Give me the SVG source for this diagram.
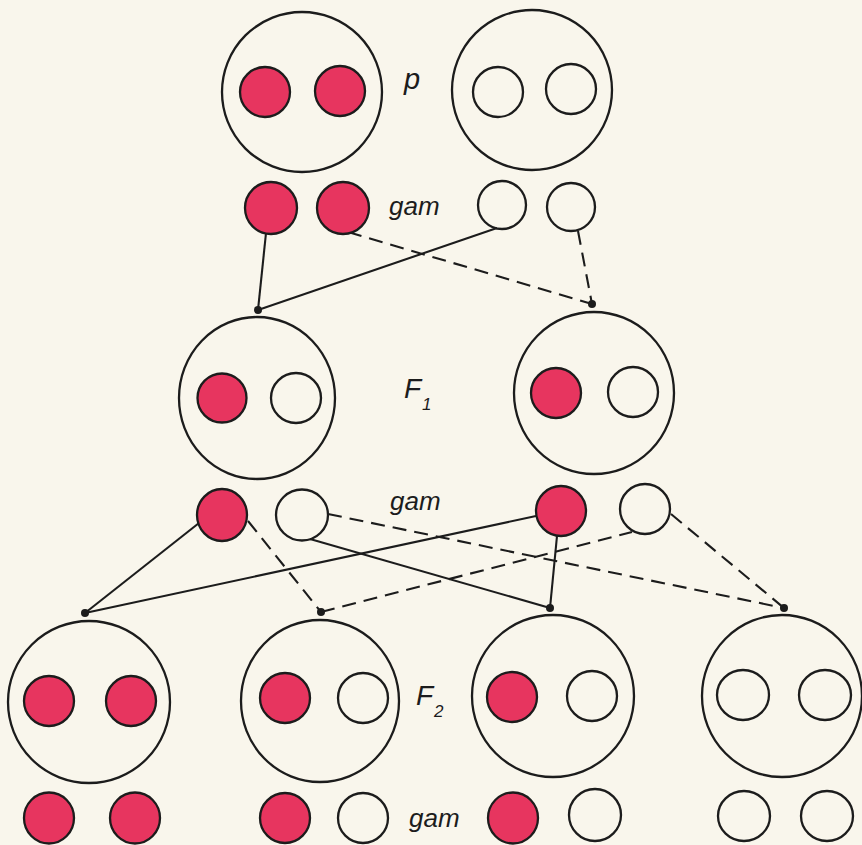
<svg xmlns="http://www.w3.org/2000/svg" width="862" height="845" viewBox="0 0 862 845">
<style>
.bg{fill:#f9f6ec}
.big{fill:none;stroke:#1c1c1c;stroke-width:2.3}
.r{fill:#e7355f;stroke:#1c1c1c;stroke-width:2.3}
.w{fill:none;stroke:#1c1c1c;stroke-width:2.3}
.s{fill:none;stroke:#1c1c1c;stroke-width:2.1}
.d{fill:none;stroke:#1c1c1c;stroke-width:2.1;stroke-dasharray:14 8}
.dot{fill:#1c1c1c}
.lbl{font-family:"Liberation Sans","DejaVu Sans",sans-serif;font-style:italic;fill:#1c1c1c}
</style>
<rect class="bg" x="0" y="0" width="862" height="845"/>

<g id="connectors">
  <line class="s" x1="266" y1="233" x2="258" y2="310"/>
  <line class="s" x1="258" y1="310" x2="497" y2="228"/>
  <line class="d" x1="348" y1="232" x2="592" y2="304"/>
  <line class="d" x1="578" y1="231" x2="592" y2="304"/>
  <circle class="dot" cx="258" cy="310" r="4"/>
  <circle class="dot" cx="592" cy="304" r="4"/>

  <line class="s" x1="199" y1="523" x2="85" y2="613"/>
  <line class="s" x1="85" y1="613" x2="536" y2="516"/>
  <line class="d" x1="248" y1="521" x2="321" y2="612"/>
  <line class="d" x1="321" y1="612" x2="632" y2="532"/>
  <line class="s" x1="310" y1="539" x2="550" y2="608"/>
  <line class="s" x1="557" y1="536" x2="550" y2="608"/>
  <line class="d" x1="328" y1="514" x2="784" y2="608"/>
  <line class="d" x1="671" y1="514" x2="784" y2="608"/>
  <circle class="dot" cx="85" cy="613" r="4"/>
  <circle class="dot" cx="321" cy="612" r="4"/>
  <circle class="dot" cx="550" cy="608" r="4"/>
  <circle class="dot" cx="784" cy="608" r="4"/>
</g>

<g id="p-left">
  <circle class="big" cx="302" cy="92" r="80"/>
  <circle class="r" cx="265" cy="92" r="25"/>
  <circle class="r" cx="340" cy="91" r="25"/>
</g>
<g id="p-right">
  <circle class="big" cx="532" cy="90" r="80"/>
  <circle class="w" cx="498" cy="92" r="25"/>
  <circle class="w" cx="571" cy="89" r="25"/>
</g>
<g id="label-p"><text class="lbl" x="404" y="89" font-size="29">p</text></g>

<g id="gam-p">
  <circle class="r" cx="271" cy="208" r="26"/>
  <circle class="r" cx="343" cy="208" r="26"/>
  <circle class="w" cx="502" cy="205" r="24"/>
  <circle class="w" cx="571" cy="207" r="24"/>
  <text class="lbl" x="389" y="215" font-size="26">gam</text>
</g>

<g id="f1-left">
  <ellipse class="big" cx="257" cy="398" rx="78" ry="81"/>
  <circle class="r" cx="222" cy="398" r="24.5"/>
  <circle class="w" cx="296" cy="398" r="25"/>
</g>
<g id="f1-right">
  <ellipse class="big" cx="594" cy="393" rx="80" ry="81"/>
  <circle class="r" cx="556" cy="393" r="25"/>
  <circle class="w" cx="633" cy="392" r="25"/>
</g>
<g id="label-f1"><text class="lbl" x="404" y="398" font-size="28">F</text><text class="lbl" x="422" y="410" font-size="17">1</text></g>

<g id="gam-f1">
  <ellipse class="r" cx="222" cy="515" rx="25" ry="26"/>
  <ellipse class="w" cx="302" cy="515" rx="26" ry="25.5"/>
  <circle class="r" cx="561" cy="511" r="25"/>
  <circle class="w" cx="645" cy="509" r="25"/>
  <text class="lbl" x="390" y="510" font-size="26">gam</text>
</g>

<g id="f2-1">
  <ellipse class="big" cx="89" cy="702" rx="81" ry="81"/>
  <circle class="r" cx="49" cy="701" r="25"/>
  <circle class="r" cx="131" cy="701" r="25"/>
</g>
<g id="f2-2">
  <ellipse class="big" cx="320" cy="701" rx="79" ry="81"/>
  <circle class="r" cx="285" cy="698" r="25"/>
  <circle class="w" cx="363" cy="698" r="25"/>
</g>
<g id="f2-3">
  <ellipse class="big" cx="553" cy="696" rx="81" ry="81"/>
  <circle class="r" cx="512" cy="697" r="25"/>
  <circle class="w" cx="592" cy="696" r="25"/>
</g>
<g id="f2-4">
  <ellipse class="big" cx="782" cy="696" rx="80" ry="81"/>
  <ellipse class="w" cx="743" cy="695" rx="26" ry="25"/>
  <ellipse class="w" cx="825" cy="695" rx="26" ry="25"/>
</g>
<g id="label-f2"><text class="lbl" x="416" y="705" font-size="28">F</text><text class="lbl" x="434" y="717" font-size="17">2</text></g>

<g id="gam-f2">
  <ellipse class="r" cx="49" cy="818" rx="25" ry="25.5"/>
  <ellipse class="r" cx="135" cy="818" rx="25" ry="25.5"/>
  <ellipse class="r" cx="285" cy="818" rx="25" ry="25"/>
  <ellipse class="w" cx="363" cy="818" rx="25" ry="25"/>
  <ellipse class="r" cx="513" cy="818" rx="25" ry="25.5"/>
  <circle class="w" cx="595" cy="815" r="26"/>
  <ellipse class="w" cx="744" cy="816" rx="26" ry="25"/>
  <ellipse class="w" cx="827" cy="816" rx="26" ry="25"/>
  <text class="lbl" x="409" y="827" font-size="26">gam</text>
</g>
</svg>
